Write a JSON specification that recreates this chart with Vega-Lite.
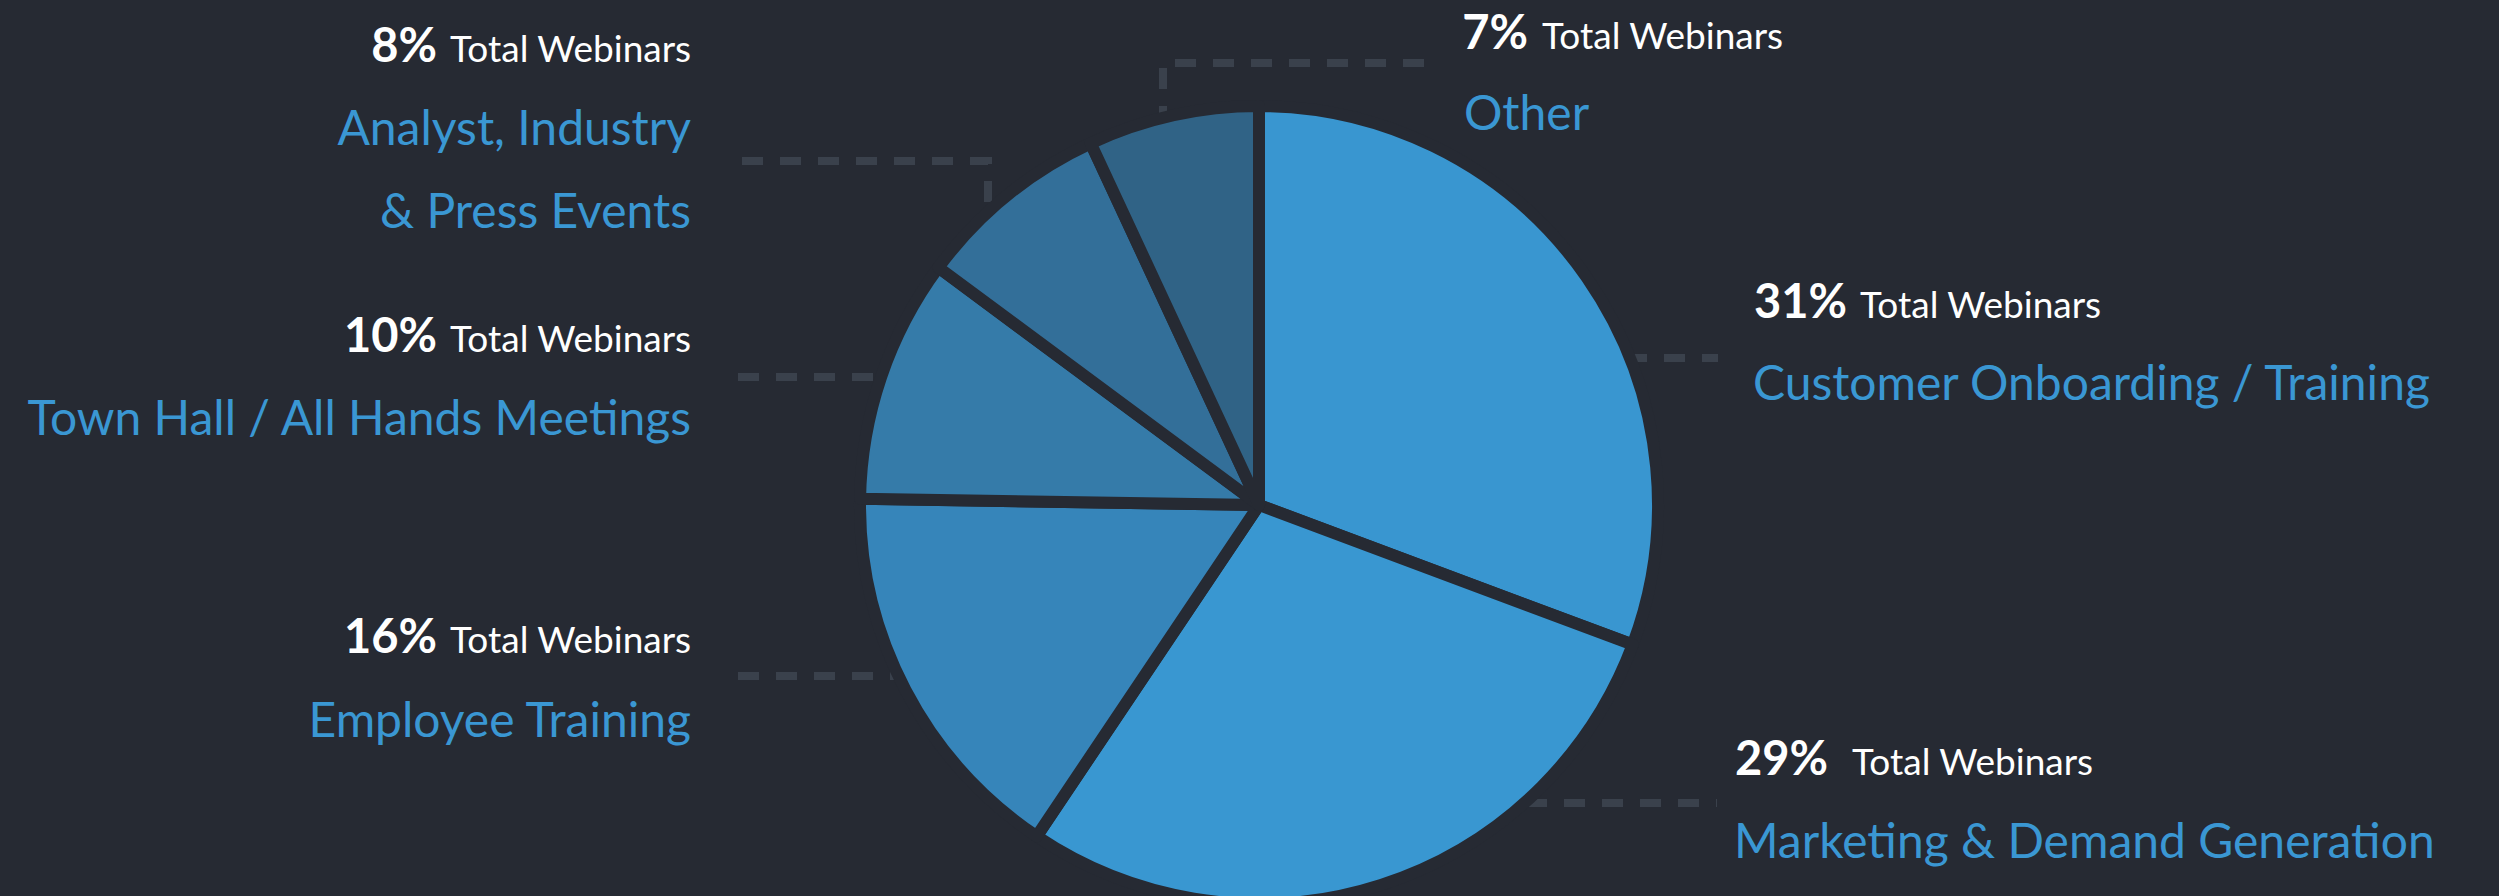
{
  "$schema": "https://vega.github.io/schema/vega-lite/v6.json",
  "autosize": {"type": "none"},
  "width": 2499,
  "height": 896,
  "padding": 0,
  "background": "#262a33",
  "config": {"view": {"stroke": null}, "font": "Lato"},
  "datasets": {
    "slices": [
      {"category": "Customer Onboarding / Training", "pct": 31, "ord": 1},
      {"category": "Marketing & Demand Generation", "pct": 29, "ord": 2},
      {"category": "Employee Training", "pct": 16, "ord": 3},
      {"category": "Town Hall / All Hands Meetings", "pct": 10, "ord": 4},
      {"category": "Analyst, Industry & Press Events", "pct": 8, "ord": 5},
      {"category": "Other", "pct": 7, "ord": 6}
    ],
    "leaders": [
      {"id": "analyst", "seq": 1, "px": 742, "py": 161},
      {"id": "analyst", "seq": 2, "px": 988, "py": 161},
      {"id": "analyst", "seq": 3, "px": 988, "py": 260},
      {"id": "town", "seq": 1, "px": 738, "py": 377},
      {"id": "town", "seq": 2, "px": 950, "py": 377},
      {"id": "employee", "seq": 1, "px": 738, "py": 676},
      {"id": "employee", "seq": 2, "px": 950, "py": 676},
      {"id": "other", "seq": 1, "px": 1424, "py": 63},
      {"id": "other", "seq": 2, "px": 1163, "py": 63},
      {"id": "other", "seq": 3, "px": 1163, "py": 200},
      {"id": "customer", "seq": 1, "px": 1550, "py": 358},
      {"id": "customer", "seq": 2, "px": 1718, "py": 358},
      {"id": "marketing", "seq": 1, "px": 1450, "py": 803},
      {"id": "marketing", "seq": 2, "px": 1717, "py": 803}
    ],
    "pcts": [
      {"label": "8%", "px": 437, "py": 62},
      {"label": "10%", "px": 437, "py": 352},
      {"label": "16%", "px": 437, "py": 653},
      {"label": "7%", "px": 1528, "py": 49},
      {"label": "31%", "px": 1847, "py": 318},
      {"label": "29%", "px": 1828, "py": 775}
    ],
    "totals": [
      {"label": "Total Webinars", "px": 450, "py": 62},
      {"label": "Total Webinars", "px": 450, "py": 352},
      {"label": "Total Webinars", "px": 450, "py": 653},
      {"label": "Total Webinars", "px": 1542, "py": 49},
      {"label": "Total Webinars", "px": 1860, "py": 318},
      {"label": "Total Webinars", "px": 1852, "py": 775}
    ],
    "catsLeft": [
      {"label": "Analyst, Industry", "px": 691, "py": 145},
      {"label": "& Press Events", "px": 691, "py": 228},
      {"label": "Town Hall / All Hands Meetings", "px": 691, "py": 435},
      {"label": "Employee Training", "px": 691, "py": 737}
    ],
    "catsRight": [
      {"label": "Other", "px": 1464, "py": 130},
      {"label": "Customer Onboarding / Training", "px": 1753, "py": 400},
      {"label": "Marketing & Demand Generation", "px": 1734, "py": 858}
    ]
  },
  "layer": [
    {
      "data": {"name": "leaders"},
      "mark": {"type": "line", "stroke": "#3a414c", "strokeWidth": 8, "strokeDash": [21, 17], "strokeCap": "butt", "strokeJoin": "miter"},
      "encoding": {
        "x": {"field": "px", "type": "quantitative", "scale": {"domain": [0, 2499], "nice": false, "zero": false}, "axis": null},
        "y": {"field": "py", "type": "quantitative", "scale": {"domain": [0, 896], "nice": false, "zero": false, "reverse": true}, "axis": null},
        "detail": {"field": "id"},
        "order": {"field": "seq"}
      }
    },
    {
      "data": {"name": "slices"},
      "mark": {"type": "arc", "outerRadius": 399, "stroke": "#262a33", "strokeWidth": 12, "strokeJoin": "round"},
      "encoding": {
        "theta": {"field": "pct", "type": "quantitative", "stack": true},
        "order": {"field": "ord"},
        "x": {"datum": 1259, "type": "quantitative"},
        "y": {"datum": 505, "type": "quantitative"},
        "color": {
          "field": "category",
          "type": "nominal",
          "legend": null,
          "scale": {
            "domain": ["Customer Onboarding / Training", "Marketing & Demand Generation", "Employee Training", "Town Hall / All Hands Meetings", "Analyst, Industry & Press Events", "Other"],
            "range": ["#3996d0", "#3997d1", "#3685ba", "#357ba9", "#336f99", "#306386"]
          }
        }
      }
    },
    {
      "data": {"name": "pcts"},
      "mark": {"type": "text", "align": "right", "baseline": "alphabetic", "font": "Lato", "fontWeight": "bold", "fontSize": 47, "color": "#ffffff"},
      "encoding": {
        "x": {"field": "px", "type": "quantitative"},
        "y": {"field": "py", "type": "quantitative"},
        "text": {"field": "label"}
      }
    },
    {
      "data": {"name": "totals"},
      "mark": {"type": "text", "align": "left", "baseline": "alphabetic", "font": "Lato", "fontSize": 37, "color": "#ffffff"},
      "encoding": {
        "x": {"field": "px", "type": "quantitative"},
        "y": {"field": "py", "type": "quantitative"},
        "text": {"field": "label"}
      }
    },
    {
      "data": {"name": "catsLeft"},
      "mark": {"type": "text", "align": "right", "baseline": "alphabetic", "font": "Lato", "fontSize": 48, "color": "#3a97d3"},
      "encoding": {
        "x": {"field": "px", "type": "quantitative"},
        "y": {"field": "py", "type": "quantitative"},
        "text": {"field": "label"}
      }
    },
    {
      "data": {"name": "catsRight"},
      "mark": {"type": "text", "align": "left", "baseline": "alphabetic", "font": "Lato", "fontSize": 48, "color": "#3a97d3"},
      "encoding": {
        "x": {"field": "px", "type": "quantitative"},
        "y": {"field": "py", "type": "quantitative"},
        "text": {"field": "label"}
      }
    }
  ]
}
